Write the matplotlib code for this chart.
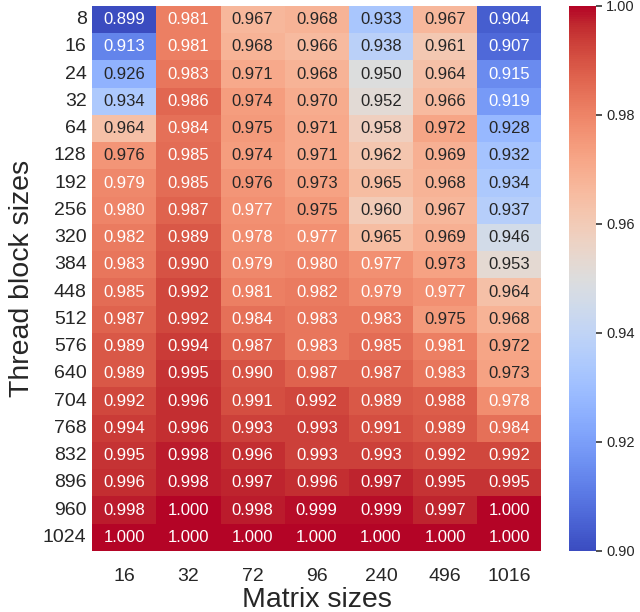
import numpy as np
import pandas as pd
import matplotlib
matplotlib.use("Agg")
import matplotlib.pyplot as plt
import seaborn as sns

matrix_sizes = [16, 32, 72, 96, 240, 496, 1016]
block_sizes = [8, 16, 24, 32, 64, 128, 192, 256, 320, 384, 448, 512,
               576, 640, 704, 768, 832, 896, 960, 1024]

# one row per thread block size, columns follow matrix_sizes
values = [
    [0.899, 0.981, 0.967, 0.968, 0.933, 0.967, 0.904],
    [0.913, 0.981, 0.968, 0.966, 0.938, 0.961, 0.907],
    [0.926, 0.983, 0.971, 0.968, 0.950, 0.964, 0.915],
    [0.934, 0.986, 0.974, 0.970, 0.952, 0.966, 0.919],
    [0.964, 0.984, 0.975, 0.971, 0.958, 0.972, 0.928],
    [0.976, 0.985, 0.974, 0.971, 0.962, 0.969, 0.932],
    [0.979, 0.985, 0.976, 0.973, 0.965, 0.968, 0.934],
    [0.980, 0.987, 0.977, 0.975, 0.960, 0.967, 0.937],
    [0.982, 0.989, 0.978, 0.977, 0.965, 0.969, 0.946],
    [0.983, 0.990, 0.979, 0.980, 0.977, 0.973, 0.953],
    [0.985, 0.992, 0.981, 0.982, 0.979, 0.977, 0.964],
    [0.987, 0.992, 0.984, 0.983, 0.983, 0.975, 0.968],
    [0.989, 0.994, 0.987, 0.983, 0.985, 0.981, 0.972],
    [0.989, 0.995, 0.990, 0.987, 0.987, 0.983, 0.973],
    [0.992, 0.996, 0.991, 0.992, 0.989, 0.988, 0.978],
    [0.994, 0.996, 0.993, 0.993, 0.991, 0.989, 0.984],
    [0.995, 0.998, 0.996, 0.993, 0.993, 0.992, 0.992],
    [0.996, 0.998, 0.997, 0.996, 0.997, 0.995, 0.995],
    [0.998, 1.000, 0.998, 0.999, 0.999, 0.997, 1.000],
    [1.000, 1.000, 1.000, 1.000, 1.000, 1.000, 1.000],
]

sns.set_theme(style="white")
plt.rcParams["font.family"] = ["Liberation Sans", "DejaVu Sans"]

df = pd.DataFrame(values, index=block_sizes, columns=matrix_sizes)

fig = plt.figure(figsize=(6.4, 6.12), dpi=100)
ax = fig.add_axes([0.144, 0.0997, 0.702, 0.8905])
cax = fig.add_axes([0.889, 0.0997, 0.042, 0.8905])

sns.heatmap(df, ax=ax, cbar_ax=cax, cmap="coolwarm", vmin=0.9, vmax=1.0,
            annot=True, fmt=".3f", annot_kws={"fontsize": 12})

ax.set_xlabel("Matrix sizes", fontsize=20.5, labelpad=2)
ax.set_ylabel("Thread block sizes", fontsize=20.5, labelpad=6)
ax.tick_params(axis="x", labelsize=14, length=0, pad=12)
ax.tick_params(axis="y", labelsize=14, length=0, rotation=0, pad=4)

cax.tick_params(labelsize=10.5, length=4, width=1.2, color="#333333")
cax.set_yticks([0.90, 0.92, 0.94, 0.96, 0.98, 1.00])
cax.set_yticklabels(["0.90", "0.92", "0.94", "0.96", "0.98", "1.00"])

fig.savefig("out.png", dpi=100)
